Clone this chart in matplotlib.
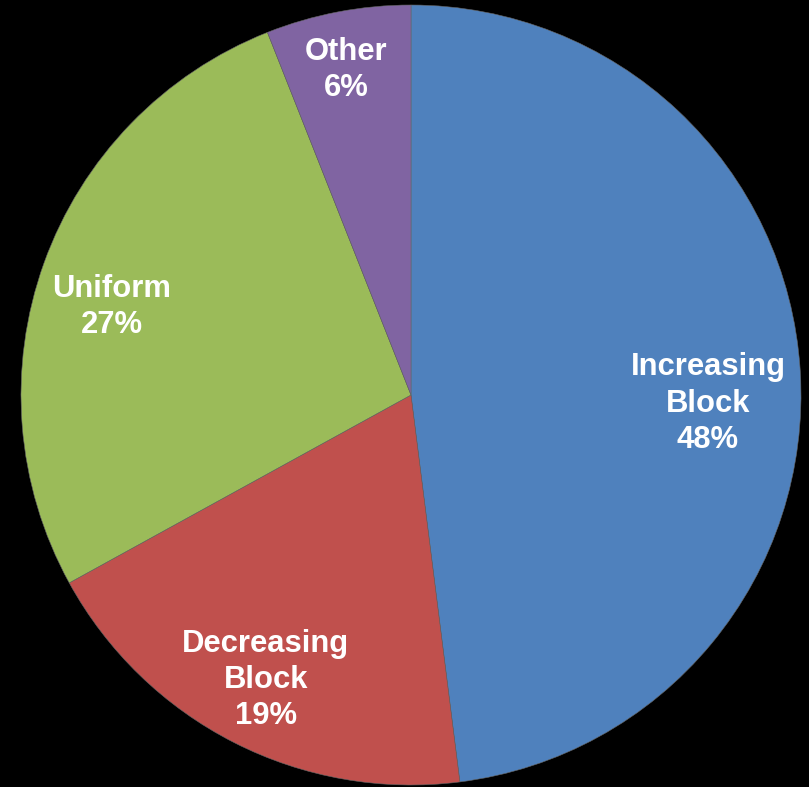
import matplotlib
matplotlib.use("Agg")
import matplotlib.pyplot as plt
import numpy as np

categories = ["Increasing\nBlock", "Decreasing\nBlock", "Uniform", "Other"]
values = [48, 19, 27, 6]
colors = ["#4F81BD", "#C0504D", "#9BBB59", "#8064A2"]
label_radius = [0.762, 0.82, 0.80, 0.85]
label_angle_shift = [-5.3, 0, 3.4, 0.5]  # degrees tweak for placement

fig = plt.figure(figsize=(8.09, 7.87), dpi=100, facecolor="black")
ax = fig.add_axes([21/809, 2/787, 780/809, 780/787])
ax.set_facecolor("black")

wedges, _ = ax.pie(values, colors=colors, startangle=90, counterclock=False,
                   radius=1.0, wedgeprops=dict(linewidth=0.4, edgecolor="#666666"))

total = sum(values)
for w, cat, v, r, sh in zip(wedges, categories, values, label_radius, label_angle_shift):
    mid = (w.theta1 + w.theta2) / 2 + sh
    x = r * np.cos(np.radians(mid))
    y = r * np.sin(np.radians(mid))
    ax.text(x, y, f"{cat}\n{round(100*v/total)}%", ha="center", va="center",
            color="white", fontsize=22.3, fontweight="bold",
            family=["Liberation Sans", "DejaVu Sans"], linespacing=1.28)

ax.set_xlim(-1, 1)
ax.set_ylim(-1, 1)
ax.set_aspect("equal")
ax.axis("off")
fig.savefig("out.png", dpi=100, facecolor="black")
